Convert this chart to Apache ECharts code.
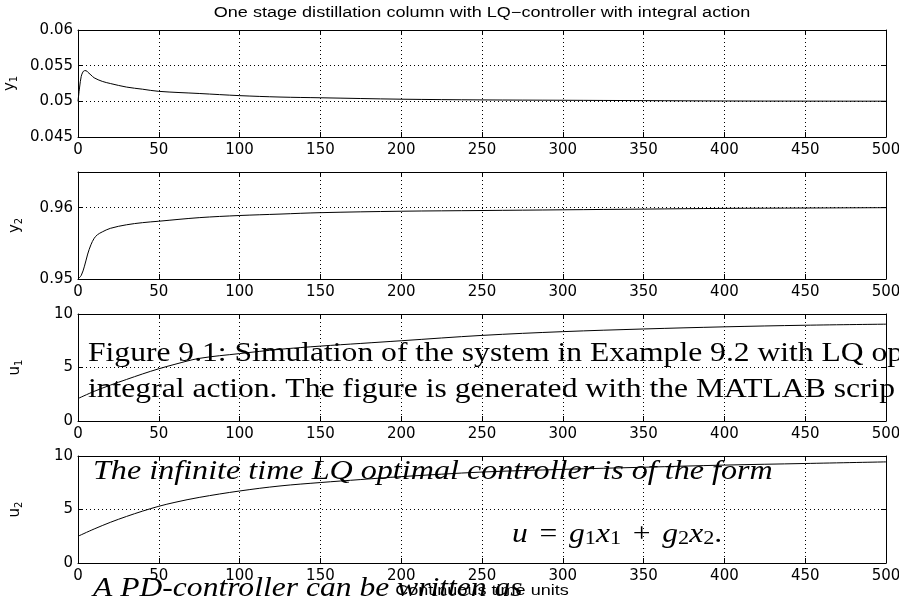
<!DOCTYPE html>
<html>
<head>
<meta charset="utf-8">
<script src="https://cdn.jsdelivr.net/npm/echarts@6/dist/echarts.min.js"></script>
<style>
html,body{margin:0;padding:0;background:#fff;}
#c{width:899px;height:606px;}
</style>
</head>
<body>
<div id="c"></div>
<script>
// ---- data ----
const titleText = 'One stage distillation column with LQ\u2212controller with integral action';
const xLabelText = 'Continuous time units';
const xTicks = [0, 50, 100, 150, 200, 250, 300, 350, 400, 450, 500];

const tY1 = [0,1,2,3,4,5,6,8,10,15,20,30,40,50,75,100,125,150,200,250,300,350,400,450,500];
const y1  = [0.0500,0.0520,0.0535,0.0541,0.0543,0.0543,0.0541,0.0537,0.0533,0.0528,0.0525,0.0520,0.0517,0.0514,0.0511,0.0508,0.0506,0.0505,0.0503,0.0502,0.05015,0.0501,0.05005,0.05003,0.05002];

const tY2 = [0,2,4,6,8,10,12,15,20,30,40,50,75,100,125,150,200,250,300,350,400,450,500];
const y2  = [0.9500,0.9505,0.9518,0.9535,0.9548,0.9557,0.9562,0.9566,0.9571,0.9576,0.9579,0.9581,0.9586,0.9589,0.9591,0.9593,0.9595,0.9596,0.9597,0.9598,0.9599,0.95995,0.9600];

const tU = [0,10,20,30,40,50,60,75,100,125,150,175,200,250,300,350,400,450,500];
const u1 = [2.1,2.77,3.35,3.88,4.4,4.88,5.3,5.85,6.3,6.7,7.0,7.25,7.5,8.0,8.35,8.6,8.8,8.95,9.05];
const u2 = [2.5,3.18,3.8,4.35,4.85,5.3,5.67,6.13,6.73,7.2,7.52,7.8,8.07,8.5,8.75,8.95,9.15,9.3,9.45];

const yRanges = [
  {min:0.045, max:0.06, interval:0.005, name:['y','1']},
  {min:0.95, max:0.965, interval:0.01, name:['y','2']},
  {min:0, max:10, interval:5, name:['u','1']},
  {min:0, max:10, interval:5, name:['u','2']}
];

const overlayLines = [
  'Figure 9.1: Simulation of the system in Example 9.2 with LQ opt',
  'integral action. The figure is generated with the MATLAB scrip',
  'The infinite time LQ optimal controller is of the form',
  'A PD-controller can be written as'
];

// ---- build chart ----
const sans = '"Liberation Sans", Arial, Helvetica, sans-serif';
const wide = '"DejaVu Sans", Verdana, sans-serif';
const serif = '"Liberation Serif", "Times New Roman", serif';
const gridTops = [30, 172, 314, 456];
const gridH = 107;
const seriesData = [
  tY1.map((t,i)=>[t,y1[i]]),
  tY2.map((t,i)=>[t,y2[i]]),
  tU.map((t,i)=>[t,u1[i]]),
  tU.map((t,i)=>[t,u2[i]])
];

const grids = [], xAxes = [], yAxes = [], series = [];
const dotted = {show:true, lineStyle:{color:'#000', width:1, type:[1,3]}};
for (let k = 0; k < 4; k++) {
  grids.push({left:78, right:13, top:gridTops[k], height:gridH, containLabel:false, outerBoundsMode:'none'});
  xAxes.push({
    type:'value', gridIndex:k, position:'bottom', min:0, max:500, interval:50,
    axisLine:{show:true, onZero:false, lineStyle:{color:'#000', width:1}},
    axisTick:{show:true, inside:true, length:5, lineStyle:{color:'#000'}},
    axisLabel:{show:true, color:'#000', fontSize:15, fontFamily:wide, margin:6},
    splitLine:dotted
  });
  xAxes.push({
    type:'value', gridIndex:k, position:'top', min:0, max:500, interval:50,
    axisLine:{show:true, onZero:false, lineStyle:{color:'#000', width:1}},
    axisTick:{show:true, inside:true, length:5, lineStyle:{color:'#000'}},
    axisLabel:{show:false}, splitLine:{show:false}
  });
  const r = yRanges[k];
  yAxes.push({
    type:'value', gridIndex:k, position:'left', min:r.min, max:r.max, interval:r.interval,
    axisLine:{show:true, onZero:false, lineStyle:{color:'#000', width:1}},
    axisTick:{show:true, inside:true, length:5, lineStyle:{color:'#000'}},
    axisLabel:{show:true, color:'#000', fontSize:15, fontFamily:wide, margin:5, showMaxLabel: k !== 1},
    splitLine:dotted,
    name:'{v|' + r.name[0] + '}{s|' + r.name[1] + '}',
    nameLocation:'middle', nameRotate:90, nameGap:54,
    nameTextStyle:{color:'#000', rich:{
      v:{fontSize:15, fontFamily:wide, color:'#000'},
      s:{fontSize:10, fontFamily:wide, color:'#000', verticalAlign:'bottom', padding:[8,0,0,0]}
    }}
  });
  yAxes.push({
    type:'value', gridIndex:k, position:'right', min:r.min, max:r.max, interval:r.interval,
    axisLine:{show:true, onZero:false, lineStyle:{color:'#000', width:1}},
    axisTick:{show:true, inside:true, length:5, lineStyle:{color:'#000'}},
    axisLabel:{show:false}, splitLine:{show:false}
  });
  series.push({
    type:'line', xAxisIndex:2*k, yAxisIndex:2*k, data:seriesData[k],
    showSymbol:false, smooth:0.35,
    lineStyle:{color:'#000', width:1}, clip:true, z:5
  });
}

function serifLine(text, x, y, sx, italic) {
  return {type:'text', x:x, y:y, z:100, scaleX:sx,
    style:{text:text, fontSize:27, fontStyle: italic ? 'italic' : 'normal', fontFamily:serif,
           fill:'#000', align:'left', verticalAlign:'middle'}};
}

const graphics = [
  {type:'text', x:482, y:13, z:100, scaleX:1.29,
   style:{text:titleText, fontSize:14, fontFamily:sans, fill:'#000', align:'center', verticalAlign:'middle'}},
  {type:'text', x:482, y:591, z:100, scaleX:1.29,
   style:{text:xLabelText, fontSize:14, fontFamily:sans, fill:'#000', align:'center', verticalAlign:'middle'}},
  serifLine(overlayLines[0], 88, 354, 1.17, false),
  serifLine(overlayLines[1], 88, 390, 1.17, false),
  serifLine(overlayLines[2], 93, 472, 1.19, true),
  {type:'text', x:512, y:535, z:100, scaleX:1.17,
   style:{text:'{i|u}{o|=}{i|g}{s|1}{i|x}{s|1}{o|+}{i|g}{s|2}{i|x}{s|2}{r|.}',
     fill:'#000', align:'left', verticalAlign:'middle',
     rich:{
       i:{fontSize:27, fontStyle:'italic', fontFamily:serif, fill:'#000'},
       r:{fontSize:27, fontFamily:serif, fill:'#000'},
       o:{fontSize:27, fontFamily:serif, fill:'#000', padding:[0,10,0,10]},
       s:{fontSize:19, fontFamily:serif, fill:'#000', verticalAlign:'bottom'}
     }}},
  serifLine(overlayLines[3], 93, 589, 1.17, true)
];

const chart = echarts.init(document.getElementById('c'), null, {renderer:'canvas'});
chart.setOption({
  backgroundColor:'#fff',
  animation:false,
  grid:grids, xAxis:xAxes, yAxis:yAxes, series:series, graphic:graphics
});
</script>
</body>
</html>
